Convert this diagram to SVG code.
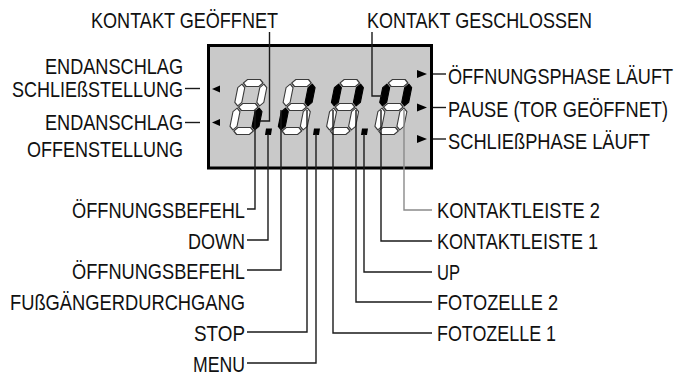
<svg xmlns="http://www.w3.org/2000/svg" xmlns:xlink="http://www.w3.org/1999/xlink" width="679" height="376" viewBox="0 0 679 376">
<style>
.t{font-family:"Liberation Sans",Arial,Helvetica,sans-serif;font-size:23px;fill:#111}
.e{text-anchor:end}
.ln{fill:none;stroke:#1a1a1a;stroke-width:1.4}
.gr{fill:none;stroke:#8a8a8a;stroke-width:1.4}
.off{fill:#fff;stroke:#3a3a3a;stroke-width:1.1;stroke-linejoin:round}
.on{fill:#000;stroke:#000;stroke-width:1.1;stroke-linejoin:round}
.ar{fill:#000}
</style>
<defs>
<polygon id="sa" points="1.2,-48 4.7,-51.5 17.3,-51.5 20.8,-48 17.3,-44.5 4.7,-44.5"/>
<polygon id="sg" points="1.2,-24 4.7,-27.5 17.3,-27.5 20.8,-24 17.3,-20.5 4.7,-20.5"/>
<polygon id="sd" points="1.2,0 4.7,-3.5 17.3,-3.5 20.8,0 17.3,3.5 4.7,3.5"/>
<polygon id="sf" points="0,-46.8 3.5,-43.3 3.5,-28.7 0,-25.2 -3.5,-28.7 -3.5,-43.3"/>
<polygon id="sb" points="22,-46.8 25.5,-43.3 25.5,-28.7 22,-25.2 18.5,-28.7 18.5,-43.3"/>
<polygon id="se" points="0,-22.8 3.5,-19.3 3.5,-4.7 0,-1.2 -3.5,-4.7 -3.5,-19.3"/>
<polygon id="sc" points="22,-22.8 25.5,-19.3 25.5,-4.7 22,-1.2 18.5,-4.7 18.5,-19.3"/>
</defs>

<g id="display">
<rect x="208.5" y="45.5" width="223" height="122.5" fill="#c9c9c9" stroke="#000" stroke-width="3"/>
<g id="digit1" transform="translate(232.6,131) skewX(-11.3)">
<use xlink:href="#sa" class="off"/><use xlink:href="#sg" class="off"/><use xlink:href="#sd" class="off"/>
<use xlink:href="#sf" class="off"/><use xlink:href="#sb" class="off"/><use xlink:href="#se" class="off"/><use xlink:href="#sc" class="on"/>
</g>
<g id="digit2" transform="translate(280.9,131) skewX(-11.3)">
<use xlink:href="#sa" class="off"/><use xlink:href="#sg" class="off"/><use xlink:href="#sd" class="off"/>
<use xlink:href="#sf" class="off"/><use xlink:href="#sb" class="on"/><use xlink:href="#se" class="on"/><use xlink:href="#sc" class="off"/>
</g>
<g id="digit3" transform="translate(329.2,131) skewX(-11.3)">
<use xlink:href="#sa" class="off"/><use xlink:href="#sg" class="off"/><use xlink:href="#sd" class="off"/>
<use xlink:href="#sf" class="on"/><use xlink:href="#sb" class="on"/><use xlink:href="#se" class="off"/><use xlink:href="#sc" class="off"/>
</g>
<g id="digit4" transform="translate(377.5,131) skewX(-11.3)">
<use xlink:href="#sa" class="off"/><use xlink:href="#sg" class="off"/><use xlink:href="#sd" class="off"/>
<use xlink:href="#sf" class="on"/><use xlink:href="#sb" class="on"/><use xlink:href="#se" class="off"/><use xlink:href="#sc" class="off"/>
</g>
<g id="dots">
<polygon class="ar" points="266,128.5 272,128.5 271,135 265,135"/>
<polygon class="ar" points="314,128.5 320,128.5 319,135 313,135"/>
<polygon class="ar" points="362,128.5 368,128.5 367,135 361,135"/>
</g>
<g id="arrows">
<polygon class="ar" points="212,89 220,85.5 220,92.5"/>
<polygon class="ar" points="212,122.5 220,119 220,126"/>
<polygon class="ar" points="417,70 427,74 417,78"/>
<polygon class="ar" points="417,103.5 427,107.5 417,111.5"/>
<polygon class="ar" points="417,135 427,139 417,143"/>
</g>
</g>

<g id="connectors">
<polyline class="ln" points="269.5,32 269.5,121 260,121"/>
<polyline class="ln" points="372,32 372,96 382,96"/>
<line class="ln" x1="185" y1="88.5" x2="200" y2="88.5"/>
<line class="ln" x1="185" y1="122.5" x2="200" y2="122.5"/>
<line class="ln" x1="433" y1="74" x2="446" y2="74"/>
<line class="ln" x1="433" y1="107.5" x2="446" y2="107.5"/>
<line class="ln" x1="433" y1="139" x2="446" y2="139"/>
<polyline class="ln" points="255,110 255,209 247,209"/>
<polyline class="ln" points="268,134 268,240 247,240"/>
<polyline class="ln" points="281,110 281,270 247,270"/>
<polyline class="ln" points="307,110 307,332 247,332"/>
<polyline class="ln" points="316,134 316,363 247,363"/>
<polyline class="ln" points="333,110 333,333 432,333"/>
<polyline class="ln" points="356,110 356,302 432,302"/>
<polyline class="ln" points="364,134 364,272 432,272"/>
<polyline class="ln" points="381,110 381,241 432,241"/>
<polyline class="gr" points="404,110 404,210 432,210"/>
</g>

<g id="label-kontakt-geoeffnet"><text class="t" transform="translate(91,27.5) scale(0.81,1)" textLength="230.9" lengthAdjust="spacingAndGlyphs">KONTAKT GEÖFFNET</text></g>
<g id="label-kontakt-geschlossen"><text class="t" transform="translate(367,27.5) scale(0.81,1)" textLength="277.8" lengthAdjust="spacingAndGlyphs">KONTAKT GESCHLOSSEN</text></g>
<g id="label-endanschlag-schliess">
<text class="t e" transform="translate(183,73.5) scale(0.81,1)" textLength="170.4" lengthAdjust="spacingAndGlyphs">ENDANSCHLAG</text>
<text class="t e" transform="translate(183,97) scale(0.81,1)" textLength="211.1" lengthAdjust="spacingAndGlyphs">SCHLIEßSTELLUNG</text>
</g>
<g id="label-endanschlag-offen">
<text class="t e" transform="translate(183,130) scale(0.81,1)" textLength="170.4" lengthAdjust="spacingAndGlyphs">ENDANSCHLAG</text>
<text class="t e" transform="translate(183,157) scale(0.81,1)" textLength="192.6" lengthAdjust="spacingAndGlyphs">OFFENSTELLUNG</text>
</g>
<g id="label-oeffnungsphase"><text class="t" transform="translate(448,84) scale(0.81,1)" textLength="277.8" lengthAdjust="spacingAndGlyphs">ÖFFNUNGSPHASE LÄUFT</text></g>
<g id="label-pause"><text class="t" transform="translate(448,117) scale(0.81,1)" textLength="271.6" lengthAdjust="spacingAndGlyphs">PAUSE (TOR GEÖFFNET)</text></g>
<g id="label-schliessphase"><text class="t" transform="translate(448,149) scale(0.81,1)" textLength="249.4" lengthAdjust="spacingAndGlyphs">SCHLIEßPHASE LÄUFT</text></g>
<g id="label-oeffnungsbefehl1"><text class="t e" transform="translate(245,218) scale(0.81,1)" textLength="213.6" lengthAdjust="spacingAndGlyphs">ÖFFNUNGSBEFEHL</text></g>
<g id="label-down"><text class="t e" transform="translate(245,249) scale(0.81,1)" textLength="70.4" lengthAdjust="spacingAndGlyphs">DOWN</text></g>
<g id="label-oeffnungsbefehl2">
<text class="t e" transform="translate(245,279) scale(0.81,1)" textLength="213.6" lengthAdjust="spacingAndGlyphs">ÖFFNUNGSBEFEHL</text>
<text class="t e" transform="translate(245,310) scale(0.81,1)" textLength="290.1" lengthAdjust="spacingAndGlyphs">FUßGÄNGERDURCHGANG</text>
</g>
<g id="label-stop"><text class="t e" transform="translate(245,341) scale(0.81,1)" textLength="63" lengthAdjust="spacingAndGlyphs">STOP</text></g>
<g id="label-menu"><text class="t e" transform="translate(245,372) scale(0.81,1)" textLength="64.2" lengthAdjust="spacingAndGlyphs">MENU</text></g>
<g id="label-kontaktleiste2"><text class="t" transform="translate(437,218) scale(0.81,1)" textLength="201.2" lengthAdjust="spacingAndGlyphs">KONTAKTLEISTE 2</text></g>
<g id="label-kontaktleiste1"><text class="t" transform="translate(437,249) scale(0.81,1)" textLength="198.8" lengthAdjust="spacingAndGlyphs">KONTAKTLEISTE 1</text></g>
<g id="label-up"><text class="t" transform="translate(437,280) scale(0.81,1)" textLength="28.4" lengthAdjust="spacingAndGlyphs">UP</text></g>
<g id="label-fotozelle2"><text class="t" transform="translate(437,310) scale(0.81,1)" textLength="149.4" lengthAdjust="spacingAndGlyphs">FOTOZELLE 2</text></g>
<g id="label-fotozelle1"><text class="t" transform="translate(437,341) scale(0.81,1)" textLength="146.9" lengthAdjust="spacingAndGlyphs">FOTOZELLE 1</text></g>
</svg>
